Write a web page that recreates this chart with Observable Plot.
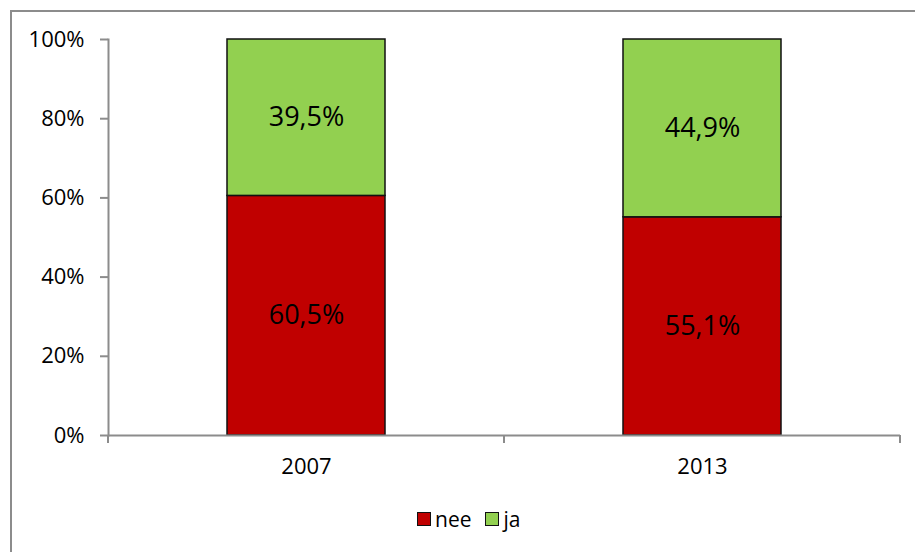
<!DOCTYPE html>
<html>
<head>
<meta charset="utf-8">
<script src="https://cdn.jsdelivr.net/npm/d3@7"></script>
<script src="https://cdn.jsdelivr.net/npm/@observablehq/plot@0.6"></script>
<style>
  html, body { margin: 0; padding: 0; background: #fff; overflow: hidden; width: 915px; height: 552px; }
  #frame { position: absolute; left: 10px; top: 10px; width: 2000px; height: 2000px; border-top: 2px solid #8c8c8c; border-left: 2px solid #8c8c8c; box-sizing: border-box; }
  #chart { position: absolute; left: 0; top: 0; }
  #legend { position: absolute; left: 417px; top: 505px; display: flex; align-items: center; font-family: "Open Sans", sans-serif; font-size: 21px; color: #000; }
  .sw { width: 12px; height: 12px; border: 1.5px solid #111; display: inline-block; margin-right: 4px; }
  .item { display: flex; align-items: center; margin-right: 14px; }
</style>
</head>
<body>
<div id="frame"></div>
<div id="chart"></div>
<div id="legend"></div>
<script>
const years = ["2007", "2013"];
const series = ["nee", "ja"];
const nee = [60.5, 55.1];
const ja = [39.5, 44.9];
const colors = ["#C00000", "#92D050"];
const yTicks = [0, 20, 40, 60, 80, 100];

const values = {nee, ja};
const data = [];
series.forEach(s => years.forEach((y, i) => data.push({year: y, series: s, value: values[s][i]})));

const fmt = v => v.toFixed(1).replace(".", ",") + "%";

function xBoundaryTicks(index, scales, vals, dimensions) {
  const x = scales.x;
  const step = x.step ? x.step() : x.bandwidth();
  const bw = x.bandwidth();
  const g = d3.create("svg:g");
  const bounds = [];
  years.forEach((y, i) => { const c = x(y) + bw / 2; if (i === 0) bounds.push(c - step / 2); bounds.push(c + step / 2); });
  const yb = dimensions.height - dimensions.marginBottom;
  g.selectAll("line").data(bounds).join("line")
    .attr("x1", d => d).attr("x2", d => d)
    .attr("y1", yb).attr("y2", yb + 8)
    .attr("stroke", "#8c8c8c").attr("stroke-width", 2);
  return g.node();
}

const chart = Plot.plot({
  width: 915,
  height: 482,
  marginLeft: 108,
  marginRight: 15,
  marginTop: 39,
  marginBottom: 47,
  style: {fontFamily: "'Open Sans', sans-serif", fontSize: "22px", color: "#000", background: "transparent"},
  x: {domain: years, paddingInner: 0.6, paddingOuter: 0.3, label: null},
  y: {domain: [0, 100], label: null},
  color: {domain: series, range: colors},
  marks: [
    Plot.barY(data, {x: "year", y: "value", fill: "series", stroke: "#111", strokeWidth: 1.5}),
    Plot.text(data, Plot.stackY({x: "year", y: "value", z: "series", text: d => fmt(d.value), fontSize: 27, fill: "#000"})),
    Plot.frame({anchor: "left", stroke: "#8c8c8c", strokeWidth: 2}),
    Plot.ruleY([0], {stroke: "#8c8c8c", strokeWidth: 2}),
    Plot.axisY({ticks: yTicks, tickFormat: d => d + "%", tickSize: 8, tickPadding: 16, stroke: "#8c8c8c", strokeWidth: 2, fill: "#000", fontSize: 22}),
    Plot.axisX({tickSize: 0, tickPadding: 23, fill: "#000", fontSize: 22}),
    xBoundaryTicks
  ]
});
document.getElementById("chart").appendChild(chart);

const legend = document.getElementById("legend");
series.forEach((s, i) => {
  const item = document.createElement("div");
  item.className = "item";
  const sw = document.createElement("span");
  sw.className = "sw";
  sw.style.background = colors[i];
  item.appendChild(sw);
  const t = document.createElement("span");
  t.textContent = s;
  item.appendChild(t);
  legend.appendChild(item);
});
</script>
</body>
</html>
